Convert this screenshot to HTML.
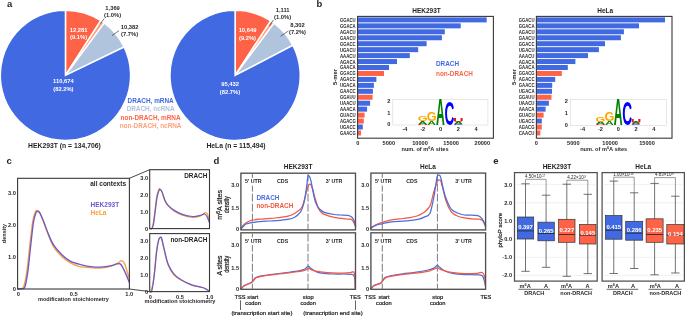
<!DOCTYPE html>
<html><head><meta charset="utf-8"><style>
html,body{margin:0;padding:0;background:#fff;}
svg{display:block;}
text{font-family:"Liberation Sans", sans-serif;}
</style></head><body>
<div style="width:685px;height:317px;will-change:transform;">
<svg width="685" height="317" viewBox="0 0 685 317">
<rect width="685" height="317" fill="#fff"/>
<text x="6.90" y="6.90" font-size="9.5" font-weight="bold" text-anchor="start" fill="#231f20">a</text>
<path d="M65.45,75.35 L65.45,10.20 A65.15,65.15 0 0 1 100.76,20.60 Z" fill="#ff6347" stroke="#fff" stroke-width="1.5" stroke-linejoin="miter" stroke-miterlimit="10"/>
<path d="M65.45,75.35 L100.76,20.60 A65.15,65.15 0 0 1 104.18,22.96 Z" fill="#ffa07a" stroke="#fff" stroke-width="1.5" stroke-linejoin="miter" stroke-miterlimit="10"/>
<path d="M65.45,75.35 L104.18,22.96 A65.15,65.15 0 0 1 124.12,47.02 Z" fill="#b0c4de" stroke="#fff" stroke-width="1.5" stroke-linejoin="miter" stroke-miterlimit="10"/>
<path d="M65.45,75.35 L124.12,47.02 A65.15,65.15 0 1 1 65.45,10.20 Z" fill="#4169e1" stroke="#fff" stroke-width="1.5" stroke-linejoin="miter" stroke-miterlimit="10"/>
<path d="M235.10,75.40 L235.10,10.25 A65.15,65.15 0 0 1 270.77,20.88 Z" fill="#ff6347" stroke="#fff" stroke-width="1.5" stroke-linejoin="miter" stroke-miterlimit="10"/>
<path d="M235.10,75.40 L270.77,20.88 A65.15,65.15 0 0 1 274.00,23.13 Z" fill="#ffa07a" stroke="#fff" stroke-width="1.5" stroke-linejoin="miter" stroke-miterlimit="10"/>
<path d="M235.10,75.40 L274.00,23.13 A65.15,65.15 0 0 1 292.91,45.35 Z" fill="#b0c4de" stroke="#fff" stroke-width="1.5" stroke-linejoin="miter" stroke-miterlimit="10"/>
<path d="M235.10,75.40 L292.91,45.35 A65.15,65.15 0 1 1 235.10,10.25 Z" fill="#4169e1" stroke="#fff" stroke-width="1.5" stroke-linejoin="miter" stroke-miterlimit="10"/>
<text x="78.60" y="32.10" font-size="5.8" font-weight="bold" text-anchor="middle" fill="#fff">12,281</text>
<text x="78.60" y="38.60" font-size="5.8" font-weight="bold" text-anchor="middle" fill="#fff">(9.1%)</text>
<text x="112.60" y="10.40" font-size="5.8" font-weight="bold" text-anchor="middle" fill="#231f20">1,369</text>
<text x="112.60" y="17.00" font-size="5.8" font-weight="bold" text-anchor="middle" fill="#231f20">(1.0%)</text>
<line x1="104.20" y1="18.60" x2="100.40" y2="23.60" stroke="#222" stroke-width="0.6"/>
<text x="129.60" y="29.10" font-size="5.8" font-weight="bold" text-anchor="middle" fill="#231f20">10,382</text>
<text x="129.60" y="35.70" font-size="5.8" font-weight="bold" text-anchor="middle" fill="#231f20">(7.7%)</text>
<line x1="119.00" y1="30.60" x2="112.00" y2="35.60" stroke="#222" stroke-width="0.6"/>
<text x="63.40" y="83.10" font-size="5.8" font-weight="bold" text-anchor="middle" fill="#fff">110,674</text>
<text x="63.40" y="90.50" font-size="5.8" font-weight="bold" text-anchor="middle" fill="#fff">(82.2%)</text>
<text x="64.40" y="148.30" font-size="6.8" font-weight="bold" text-anchor="middle" fill="#231f20">HEK293T (n = 134,706)</text>
<text x="247.50" y="32.40" font-size="5.8" font-weight="bold" text-anchor="middle" fill="#fff">10,649</text>
<text x="247.50" y="39.80" font-size="5.8" font-weight="bold" text-anchor="middle" fill="#fff">(9.2%)</text>
<text x="282.60" y="11.80" font-size="5.8" font-weight="bold" text-anchor="middle" fill="#231f20">1,111</text>
<text x="282.60" y="18.70" font-size="5.8" font-weight="bold" text-anchor="middle" fill="#231f20">(1.0%)</text>
<line x1="273.40" y1="19.90" x2="269.40" y2="26.00" stroke="#222" stroke-width="0.6"/>
<text x="297.50" y="27.00" font-size="5.8" font-weight="bold" text-anchor="middle" fill="#231f20">8,302</text>
<text x="297.50" y="33.80" font-size="5.8" font-weight="bold" text-anchor="middle" fill="#231f20">(7.2%)</text>
<line x1="288.40" y1="31.00" x2="280.50" y2="36.30" stroke="#222" stroke-width="0.6"/>
<text x="230.10" y="86.40" font-size="5.8" font-weight="bold" text-anchor="middle" fill="#fff">95,432</text>
<text x="230.00" y="93.60" font-size="5.8" font-weight="bold" text-anchor="middle" fill="#fff">(82.7%)</text>
<text x="236.00" y="148.30" font-size="6.8" font-weight="bold" text-anchor="middle" fill="#231f20">HeLa (n = 115,494)</text>
<text x="150.60" y="102.80" font-size="6.4" font-weight="bold" text-anchor="middle" fill="#4169e1">DRACH, mRNA</text>
<text x="150.60" y="111.20" font-size="6.4" font-weight="bold" text-anchor="middle" fill="#b0c4de">DRACH, ncRNA</text>
<text x="150.60" y="119.60" font-size="6.4" font-weight="bold" text-anchor="middle" fill="#ff6347">non-DRACH, mRNA</text>
<text x="150.60" y="128.00" font-size="6.4" font-weight="bold" text-anchor="middle" fill="#ffa07a">non-DRACH, ncRNA</text>
<text x="316.60" y="7.00" font-size="9.5" font-weight="bold" text-anchor="start" fill="#231f20">b</text>
<rect x="357.60" y="17.40" width="129.10" height="5.00" fill="#4169e1" stroke="none" stroke-width="0.8"/>
<text x="355.70" y="21.85" font-size="4.7" font-weight="bold" text-anchor="end" fill="#231f20" textLength="15.8" lengthAdjust="spacingAndGlyphs">GGACU</text>
<rect x="357.60" y="23.35" width="103.10" height="5.00" fill="#4169e1" stroke="none" stroke-width="0.8"/>
<text x="355.70" y="27.80" font-size="4.7" font-weight="bold" text-anchor="end" fill="#231f20" textLength="15.8" lengthAdjust="spacingAndGlyphs">GGACA</text>
<rect x="357.60" y="29.30" width="87.20" height="5.00" fill="#4169e1" stroke="none" stroke-width="0.8"/>
<text x="355.70" y="33.75" font-size="4.7" font-weight="bold" text-anchor="end" fill="#231f20" textLength="15.8" lengthAdjust="spacingAndGlyphs">AGACU</text>
<rect x="357.60" y="35.25" width="84.30" height="5.00" fill="#4169e1" stroke="none" stroke-width="0.8"/>
<text x="355.70" y="39.70" font-size="4.7" font-weight="bold" text-anchor="end" fill="#231f20" textLength="15.8" lengthAdjust="spacingAndGlyphs">GAACU</text>
<rect x="357.60" y="41.20" width="69.00" height="5.00" fill="#4169e1" stroke="none" stroke-width="0.8"/>
<text x="355.70" y="45.65" font-size="4.7" font-weight="bold" text-anchor="end" fill="#231f20" textLength="15.8" lengthAdjust="spacingAndGlyphs">GGACC</text>
<rect x="357.60" y="47.15" width="60.60" height="5.00" fill="#4169e1" stroke="none" stroke-width="0.8"/>
<text x="355.70" y="51.60" font-size="4.7" font-weight="bold" text-anchor="end" fill="#231f20" textLength="15.8" lengthAdjust="spacingAndGlyphs">UGACU</text>
<rect x="357.60" y="53.10" width="52.20" height="5.00" fill="#4169e1" stroke="none" stroke-width="0.8"/>
<text x="355.70" y="57.55" font-size="4.7" font-weight="bold" text-anchor="end" fill="#231f20" textLength="15.8" lengthAdjust="spacingAndGlyphs">AAACU</text>
<rect x="357.60" y="59.05" width="39.40" height="5.00" fill="#4169e1" stroke="none" stroke-width="0.8"/>
<text x="355.70" y="63.50" font-size="4.7" font-weight="bold" text-anchor="end" fill="#231f20" textLength="15.8" lengthAdjust="spacingAndGlyphs">AGACA</text>
<rect x="357.60" y="65.00" width="31.40" height="5.00" fill="#4169e1" stroke="none" stroke-width="0.8"/>
<text x="355.70" y="69.45" font-size="4.7" font-weight="bold" text-anchor="end" fill="#231f20" textLength="15.8" lengthAdjust="spacingAndGlyphs">GAACA</text>
<rect x="357.60" y="70.95" width="26.40" height="5.00" fill="#ff6347" stroke="none" stroke-width="0.8"/>
<text x="355.70" y="75.40" font-size="4.7" font-weight="bold" text-anchor="end" fill="#231f20" textLength="15.8" lengthAdjust="spacingAndGlyphs">GGACG</text>
<rect x="357.60" y="76.90" width="18.80" height="5.00" fill="#4169e1" stroke="none" stroke-width="0.8"/>
<text x="355.70" y="81.35" font-size="4.7" font-weight="bold" text-anchor="end" fill="#231f20" textLength="15.8" lengthAdjust="spacingAndGlyphs">AGACC</text>
<rect x="357.60" y="82.85" width="16.30" height="5.00" fill="#4169e1" stroke="none" stroke-width="0.8"/>
<text x="355.70" y="87.30" font-size="4.7" font-weight="bold" text-anchor="end" fill="#231f20" textLength="15.8" lengthAdjust="spacingAndGlyphs">UGACA</text>
<rect x="357.60" y="88.80" width="15.30" height="5.00" fill="#4169e1" stroke="none" stroke-width="0.8"/>
<text x="355.70" y="93.25" font-size="4.7" font-weight="bold" text-anchor="end" fill="#231f20" textLength="15.8" lengthAdjust="spacingAndGlyphs">GAACC</text>
<rect x="357.60" y="94.75" width="15.00" height="5.00" fill="#ff6347" stroke="none" stroke-width="0.8"/>
<text x="355.70" y="99.20" font-size="4.7" font-weight="bold" text-anchor="end" fill="#231f20" textLength="15.8" lengthAdjust="spacingAndGlyphs">GGAUU</text>
<rect x="357.60" y="100.70" width="12.50" height="5.00" fill="#4169e1" stroke="none" stroke-width="0.8"/>
<text x="355.70" y="105.15" font-size="4.7" font-weight="bold" text-anchor="end" fill="#231f20" textLength="15.8" lengthAdjust="spacingAndGlyphs">UAACU</text>
<rect x="357.60" y="106.65" width="9.50" height="5.00" fill="#4169e1" stroke="none" stroke-width="0.8"/>
<text x="355.70" y="111.10" font-size="4.7" font-weight="bold" text-anchor="end" fill="#231f20" textLength="15.8" lengthAdjust="spacingAndGlyphs">AAACA</text>
<rect x="357.60" y="112.60" width="7.00" height="5.00" fill="#ff6347" stroke="none" stroke-width="0.8"/>
<text x="355.70" y="117.05" font-size="4.7" font-weight="bold" text-anchor="end" fill="#231f20" textLength="15.8" lengthAdjust="spacingAndGlyphs">GUACU</text>
<rect x="357.60" y="118.55" width="6.20" height="5.00" fill="#ff6347" stroke="none" stroke-width="0.8"/>
<text x="355.70" y="123.00" font-size="4.7" font-weight="bold" text-anchor="end" fill="#231f20" textLength="15.8" lengthAdjust="spacingAndGlyphs">AGACG</text>
<rect x="357.60" y="124.50" width="5.20" height="5.00" fill="#4169e1" stroke="none" stroke-width="0.8"/>
<text x="355.70" y="128.95" font-size="4.7" font-weight="bold" text-anchor="end" fill="#231f20" textLength="15.8" lengthAdjust="spacingAndGlyphs">UGACC</text>
<rect x="357.60" y="130.45" width="3.40" height="5.00" fill="#ff6347" stroke="none" stroke-width="0.8"/>
<text x="355.70" y="134.90" font-size="4.7" font-weight="bold" text-anchor="end" fill="#231f20" textLength="15.8" lengthAdjust="spacingAndGlyphs">GAACG</text>
<rect x="357.60" y="16.40" width="135.80" height="121.80" fill="none" stroke="#383838" stroke-width="1.1"/>
<text x="426.50" y="13.00" font-size="6.5" font-weight="bold" text-anchor="middle" fill="#231f20">HEK293T</text>
<text x="357.70" y="144.70" font-size="5.6" font-weight="bold" text-anchor="middle" fill="#231f20">0</text>
<text x="388.85" y="144.70" font-size="5.6" font-weight="bold" text-anchor="middle" fill="#231f20">5000</text>
<text x="420.00" y="144.70" font-size="5.6" font-weight="bold" text-anchor="middle" fill="#231f20">10000</text>
<text x="451.10" y="144.70" font-size="5.6" font-weight="bold" text-anchor="middle" fill="#231f20">15000</text>
<text x="482.30" y="144.70" font-size="5.6" font-weight="bold" text-anchor="middle" fill="#231f20">20000</text>
<text transform="translate(337.00,77.00) rotate(-90)" x="0" y="0" font-size="5.9" font-weight="bold" text-anchor="middle" fill="#231f20">5-mer</text>
<text x="425.00" y="150.90" font-size="5.6" font-weight="bold" text-anchor="middle" fill="#231f20">num. of m<tspan font-size="3.81" dy="-1.90">6</tspan><tspan dy="1.90">A</tspan> sites</text>
<rect x="536.40" y="17.40" width="128.60" height="5.00" fill="#4169e1" stroke="none" stroke-width="0.8"/>
<text x="534.50" y="21.85" font-size="4.7" font-weight="bold" text-anchor="end" fill="#231f20" textLength="15.8" lengthAdjust="spacingAndGlyphs">GGACU</text>
<rect x="536.40" y="23.35" width="102.60" height="5.00" fill="#4169e1" stroke="none" stroke-width="0.8"/>
<text x="534.50" y="27.80" font-size="4.7" font-weight="bold" text-anchor="end" fill="#231f20" textLength="15.8" lengthAdjust="spacingAndGlyphs">GGACA</text>
<rect x="536.40" y="29.30" width="87.50" height="5.00" fill="#4169e1" stroke="none" stroke-width="0.8"/>
<text x="534.50" y="33.75" font-size="4.7" font-weight="bold" text-anchor="end" fill="#231f20" textLength="15.8" lengthAdjust="spacingAndGlyphs">AGACU</text>
<rect x="536.40" y="35.25" width="84.50" height="5.00" fill="#4169e1" stroke="none" stroke-width="0.8"/>
<text x="534.50" y="39.70" font-size="4.7" font-weight="bold" text-anchor="end" fill="#231f20" textLength="15.8" lengthAdjust="spacingAndGlyphs">GAACU</text>
<rect x="536.40" y="41.20" width="68.60" height="5.00" fill="#4169e1" stroke="none" stroke-width="0.8"/>
<text x="534.50" y="45.65" font-size="4.7" font-weight="bold" text-anchor="end" fill="#231f20" textLength="15.8" lengthAdjust="spacingAndGlyphs">GGACC</text>
<rect x="536.40" y="47.15" width="62.50" height="5.00" fill="#4169e1" stroke="none" stroke-width="0.8"/>
<text x="534.50" y="51.60" font-size="4.7" font-weight="bold" text-anchor="end" fill="#231f20" textLength="15.8" lengthAdjust="spacingAndGlyphs">UGACU</text>
<rect x="536.40" y="53.10" width="51.60" height="5.00" fill="#4169e1" stroke="none" stroke-width="0.8"/>
<text x="534.50" y="57.55" font-size="4.7" font-weight="bold" text-anchor="end" fill="#231f20" textLength="15.8" lengthAdjust="spacingAndGlyphs">AAACU</text>
<rect x="536.40" y="59.05" width="39.00" height="5.00" fill="#4169e1" stroke="none" stroke-width="0.8"/>
<text x="534.50" y="63.50" font-size="4.7" font-weight="bold" text-anchor="end" fill="#231f20" textLength="15.8" lengthAdjust="spacingAndGlyphs">AGACA</text>
<rect x="536.40" y="65.00" width="31.40" height="5.00" fill="#4169e1" stroke="none" stroke-width="0.8"/>
<text x="534.50" y="69.45" font-size="4.7" font-weight="bold" text-anchor="end" fill="#231f20" textLength="15.8" lengthAdjust="spacingAndGlyphs">GAACA</text>
<rect x="536.40" y="70.95" width="25.40" height="5.00" fill="#ff6347" stroke="none" stroke-width="0.8"/>
<text x="534.50" y="75.40" font-size="4.7" font-weight="bold" text-anchor="end" fill="#231f20" textLength="15.8" lengthAdjust="spacingAndGlyphs">GGACG</text>
<rect x="536.40" y="76.90" width="18.80" height="5.00" fill="#4169e1" stroke="none" stroke-width="0.8"/>
<text x="534.50" y="81.35" font-size="4.7" font-weight="bold" text-anchor="end" fill="#231f20" textLength="15.8" lengthAdjust="spacingAndGlyphs">AGACC</text>
<rect x="536.40" y="82.85" width="15.80" height="5.00" fill="#4169e1" stroke="none" stroke-width="0.8"/>
<text x="534.50" y="87.30" font-size="4.7" font-weight="bold" text-anchor="end" fill="#231f20" textLength="15.8" lengthAdjust="spacingAndGlyphs">GAACC</text>
<rect x="536.40" y="88.80" width="15.60" height="5.00" fill="#4169e1" stroke="none" stroke-width="0.8"/>
<text x="534.50" y="93.25" font-size="4.7" font-weight="bold" text-anchor="end" fill="#231f20" textLength="15.8" lengthAdjust="spacingAndGlyphs">UGACA</text>
<rect x="536.40" y="94.75" width="15.10" height="5.00" fill="#ff6347" stroke="none" stroke-width="0.8"/>
<text x="534.50" y="99.20" font-size="4.7" font-weight="bold" text-anchor="end" fill="#231f20" textLength="15.8" lengthAdjust="spacingAndGlyphs">GGAUU</text>
<rect x="536.40" y="100.70" width="12.50" height="5.00" fill="#4169e1" stroke="none" stroke-width="0.8"/>
<text x="534.50" y="105.15" font-size="4.7" font-weight="bold" text-anchor="end" fill="#231f20" textLength="15.8" lengthAdjust="spacingAndGlyphs">UAACU</text>
<rect x="536.40" y="106.65" width="9.20" height="5.00" fill="#4169e1" stroke="none" stroke-width="0.8"/>
<text x="534.50" y="111.10" font-size="4.7" font-weight="bold" text-anchor="end" fill="#231f20" textLength="15.8" lengthAdjust="spacingAndGlyphs">AAACA</text>
<rect x="536.40" y="112.60" width="7.20" height="5.00" fill="#ff6347" stroke="none" stroke-width="0.8"/>
<text x="534.50" y="117.05" font-size="4.7" font-weight="bold" text-anchor="end" fill="#231f20" textLength="15.8" lengthAdjust="spacingAndGlyphs">GUACU</text>
<rect x="536.40" y="118.55" width="5.40" height="5.00" fill="#4169e1" stroke="none" stroke-width="0.8"/>
<text x="534.50" y="123.00" font-size="4.7" font-weight="bold" text-anchor="end" fill="#231f20" textLength="15.8" lengthAdjust="spacingAndGlyphs">UGACC</text>
<rect x="536.40" y="124.50" width="5.40" height="5.00" fill="#ff6347" stroke="none" stroke-width="0.8"/>
<text x="534.50" y="128.95" font-size="4.7" font-weight="bold" text-anchor="end" fill="#231f20" textLength="15.8" lengthAdjust="spacingAndGlyphs">AGACG</text>
<rect x="536.40" y="130.45" width="3.90" height="5.00" fill="#ff6347" stroke="none" stroke-width="0.8"/>
<text x="534.50" y="134.90" font-size="4.7" font-weight="bold" text-anchor="end" fill="#231f20" textLength="15.8" lengthAdjust="spacingAndGlyphs">CAACU</text>
<rect x="536.40" y="16.40" width="135.60" height="121.80" fill="none" stroke="#383838" stroke-width="1.1"/>
<text x="605.20" y="13.00" font-size="6.5" font-weight="bold" text-anchor="middle" fill="#231f20">HeLa</text>
<text x="536.40" y="144.70" font-size="5.6" font-weight="bold" text-anchor="middle" fill="#231f20">0</text>
<text x="573.30" y="144.70" font-size="5.6" font-weight="bold" text-anchor="middle" fill="#231f20">5000</text>
<text x="610.10" y="144.70" font-size="5.6" font-weight="bold" text-anchor="middle" fill="#231f20">10000</text>
<text x="647.00" y="144.70" font-size="5.6" font-weight="bold" text-anchor="middle" fill="#231f20">15000</text>
<text transform="translate(515.80,77.00) rotate(-90)" x="0" y="0" font-size="5.9" font-weight="bold" text-anchor="middle" fill="#231f20">5-mer</text>
<text x="603.70" y="150.90" font-size="5.6" font-weight="bold" text-anchor="middle" fill="#231f20">num. of m<tspan font-size="3.81" dy="-1.90">6</tspan><tspan dy="1.90">A</tspan> sites</text>
<text x="436.00" y="65.60" font-size="6.4" font-weight="bold" text-anchor="start" fill="#4169e1">DRACH</text>
<text x="436.00" y="76.00" font-size="6.4" font-weight="bold" text-anchor="start" fill="#ff6347">non-DRACH</text>
<rect x="392.80" y="99.30" width="95.10" height="25.70" fill="#fff" stroke="#d8d8d8" stroke-width="0.6"/>
<text x="390.40" y="126.00" font-size="5.6" font-weight="bold" text-anchor="end" fill="#231f20">0</text>
<text x="390.40" y="114.60" font-size="5.6" font-weight="bold" text-anchor="end" fill="#231f20">1</text>
<text x="390.40" y="102.60" font-size="5.6" font-weight="bold" text-anchor="end" fill="#231f20">2</text>
<text x="404.90" y="130.90" font-size="5.6" font-weight="bold" text-anchor="middle" fill="#231f20">-4</text>
<text x="422.70" y="130.90" font-size="5.6" font-weight="bold" text-anchor="middle" fill="#231f20">-2</text>
<text x="440.50" y="130.90" font-size="5.6" font-weight="bold" text-anchor="middle" fill="#231f20">0</text>
<text x="458.30" y="130.90" font-size="5.6" font-weight="bold" text-anchor="middle" fill="#231f20">2</text>
<text x="476.10" y="130.90" font-size="5.6" font-weight="bold" text-anchor="middle" fill="#231f20">4</text>
<text transform="translate(390.73,124.90) scale(1.463,0.050)" x="0" y="0" font-size="10" font-weight="bold" fill="#e8141c">U</text>
<text transform="translate(391.62,124.55) scale(1.216,0.033)" x="0" y="0" font-size="10" font-weight="bold" fill="#008000">A</text>
<text transform="translate(399.63,124.90) scale(1.463,0.033)" x="0" y="0" font-size="10" font-weight="bold" fill="#e8141c">U</text>
<text transform="translate(400.52,124.67) scale(1.216,0.066)" x="0" y="0" font-size="10" font-weight="bold" fill="#008000">A</text>
<text transform="translate(399.97,124.20) scale(1.370,0.050)" x="0" y="0" font-size="10" font-weight="bold" fill="#0000ff">C</text>
<text transform="translate(408.53,124.90) scale(1.463,0.033)" x="0" y="0" font-size="10" font-weight="bold" fill="#e8141c">U</text>
<text transform="translate(409.42,124.67) scale(1.216,0.066)" x="0" y="0" font-size="10" font-weight="bold" fill="#008000">A</text>
<text transform="translate(408.91,124.20) scale(1.270,0.050)" x="0" y="0" font-size="10" font-weight="bold" fill="#ffa500">G</text>
<text transform="translate(417.43,124.90) scale(1.463,0.166)" x="0" y="0" font-size="10" font-weight="bold" fill="#e8141c">U</text>
<text transform="translate(418.32,123.74) scale(1.216,0.365)" x="0" y="0" font-size="10" font-weight="bold" fill="#008000">A</text>
<text transform="translate(417.81,121.19) scale(1.270,0.762)" x="0" y="0" font-size="10" font-weight="bold" fill="#ffa500">G</text>
<text transform="translate(427.22,124.90) scale(1.216,0.597)" x="0" y="0" font-size="10" font-weight="bold" fill="#008000">A</text>
<text transform="translate(426.71,120.72) scale(1.270,1.293)" x="0" y="0" font-size="10" font-weight="bold" fill="#ffa500">G</text>
<text transform="translate(436.12,124.90) scale(1.216,3.729)" x="0" y="0" font-size="10" font-weight="bold" fill="#008000">A</text>
<text transform="translate(444.47,124.90) scale(1.370,3.314)" x="0" y="0" font-size="10" font-weight="bold" fill="#0000ff">C</text>
<text transform="translate(453.37,124.90) scale(1.370,0.133)" x="0" y="0" font-size="10" font-weight="bold" fill="#0000ff">C</text>
<text transform="translate(453.92,123.97) scale(1.216,0.265)" x="0" y="0" font-size="10" font-weight="bold" fill="#008000">A</text>
<text transform="translate(453.03,122.12) scale(1.463,0.464)" x="0" y="0" font-size="10" font-weight="bold" fill="#e8141c">U</text>
<text transform="translate(461.93,124.90) scale(1.463,0.033)" x="0" y="0" font-size="10" font-weight="bold" fill="#e8141c">U</text>
<text transform="translate(462.31,124.67) scale(1.270,0.066)" x="0" y="0" font-size="10" font-weight="bold" fill="#ffa500">G</text>
<text transform="translate(462.82,124.20) scale(1.216,0.050)" x="0" y="0" font-size="10" font-weight="bold" fill="#008000">A</text>
<text transform="translate(470.83,124.90) scale(1.463,0.050)" x="0" y="0" font-size="10" font-weight="bold" fill="#e8141c">U</text>
<text transform="translate(471.72,124.55) scale(1.216,0.050)" x="0" y="0" font-size="10" font-weight="bold" fill="#008000">A</text>
<text transform="translate(471.21,124.20) scale(1.270,0.050)" x="0" y="0" font-size="10" font-weight="bold" fill="#ffa500">G</text>
<text transform="translate(479.73,124.90) scale(1.463,0.050)" x="0" y="0" font-size="10" font-weight="bold" fill="#e8141c">U</text>
<text transform="translate(480.62,124.55) scale(1.216,0.033)" x="0" y="0" font-size="10" font-weight="bold" fill="#008000">A</text>
<rect x="570.30" y="99.50" width="96.10" height="26.00" fill="#fff" stroke="#d8d8d8" stroke-width="0.6"/>
<text x="567.90" y="126.50" font-size="5.6" font-weight="bold" text-anchor="end" fill="#231f20">0</text>
<text x="567.90" y="115.10" font-size="5.6" font-weight="bold" text-anchor="end" fill="#231f20">1</text>
<text x="567.90" y="103.10" font-size="5.6" font-weight="bold" text-anchor="end" fill="#231f20">2</text>
<text x="582.60" y="131.40" font-size="5.6" font-weight="bold" text-anchor="middle" fill="#231f20">-4</text>
<text x="600.40" y="131.40" font-size="5.6" font-weight="bold" text-anchor="middle" fill="#231f20">-2</text>
<text x="618.20" y="131.40" font-size="5.6" font-weight="bold" text-anchor="middle" fill="#231f20">0</text>
<text x="636.00" y="131.40" font-size="5.6" font-weight="bold" text-anchor="middle" fill="#231f20">2</text>
<text x="653.80" y="131.40" font-size="5.6" font-weight="bold" text-anchor="middle" fill="#231f20">4</text>
<text transform="translate(568.43,125.40) scale(1.463,0.050)" x="0" y="0" font-size="10" font-weight="bold" fill="#e8141c">U</text>
<text transform="translate(569.32,125.05) scale(1.216,0.033)" x="0" y="0" font-size="10" font-weight="bold" fill="#008000">A</text>
<text transform="translate(577.33,125.40) scale(1.463,0.033)" x="0" y="0" font-size="10" font-weight="bold" fill="#e8141c">U</text>
<text transform="translate(578.22,125.17) scale(1.216,0.066)" x="0" y="0" font-size="10" font-weight="bold" fill="#008000">A</text>
<text transform="translate(577.67,124.70) scale(1.370,0.050)" x="0" y="0" font-size="10" font-weight="bold" fill="#0000ff">C</text>
<text transform="translate(586.23,125.40) scale(1.463,0.033)" x="0" y="0" font-size="10" font-weight="bold" fill="#e8141c">U</text>
<text transform="translate(587.12,125.17) scale(1.216,0.066)" x="0" y="0" font-size="10" font-weight="bold" fill="#008000">A</text>
<text transform="translate(586.61,124.70) scale(1.270,0.050)" x="0" y="0" font-size="10" font-weight="bold" fill="#ffa500">G</text>
<text transform="translate(595.13,125.40) scale(1.463,0.166)" x="0" y="0" font-size="10" font-weight="bold" fill="#e8141c">U</text>
<text transform="translate(596.02,124.24) scale(1.216,0.365)" x="0" y="0" font-size="10" font-weight="bold" fill="#008000">A</text>
<text transform="translate(595.51,121.69) scale(1.270,0.762)" x="0" y="0" font-size="10" font-weight="bold" fill="#ffa500">G</text>
<text transform="translate(604.92,125.40) scale(1.216,0.597)" x="0" y="0" font-size="10" font-weight="bold" fill="#008000">A</text>
<text transform="translate(604.41,121.22) scale(1.270,1.293)" x="0" y="0" font-size="10" font-weight="bold" fill="#ffa500">G</text>
<text transform="translate(613.82,125.40) scale(1.216,3.729)" x="0" y="0" font-size="10" font-weight="bold" fill="#008000">A</text>
<text transform="translate(622.17,125.40) scale(1.370,3.314)" x="0" y="0" font-size="10" font-weight="bold" fill="#0000ff">C</text>
<text transform="translate(631.07,125.40) scale(1.370,0.133)" x="0" y="0" font-size="10" font-weight="bold" fill="#0000ff">C</text>
<text transform="translate(631.62,124.47) scale(1.216,0.265)" x="0" y="0" font-size="10" font-weight="bold" fill="#008000">A</text>
<text transform="translate(630.73,122.62) scale(1.463,0.464)" x="0" y="0" font-size="10" font-weight="bold" fill="#e8141c">U</text>
<text transform="translate(639.63,125.40) scale(1.463,0.033)" x="0" y="0" font-size="10" font-weight="bold" fill="#e8141c">U</text>
<text transform="translate(640.01,125.17) scale(1.270,0.066)" x="0" y="0" font-size="10" font-weight="bold" fill="#ffa500">G</text>
<text transform="translate(640.52,124.70) scale(1.216,0.050)" x="0" y="0" font-size="10" font-weight="bold" fill="#008000">A</text>
<text transform="translate(648.53,125.40) scale(1.463,0.050)" x="0" y="0" font-size="10" font-weight="bold" fill="#e8141c">U</text>
<text transform="translate(649.42,125.05) scale(1.216,0.050)" x="0" y="0" font-size="10" font-weight="bold" fill="#008000">A</text>
<text transform="translate(648.91,124.70) scale(1.270,0.050)" x="0" y="0" font-size="10" font-weight="bold" fill="#ffa500">G</text>
<text transform="translate(657.43,125.40) scale(1.463,0.050)" x="0" y="0" font-size="10" font-weight="bold" fill="#e8141c">U</text>
<text transform="translate(658.32,125.05) scale(1.216,0.033)" x="0" y="0" font-size="10" font-weight="bold" fill="#008000">A</text>
<text x="6.60" y="164.00" font-size="9.5" font-weight="bold" text-anchor="start" fill="#231f20">c</text>
<path d="M17.60,289.00 C18.20,288.92 20.11,289.00 21.17,288.51 C22.23,288.01 22.98,289.00 23.94,286.03 C24.90,283.06 25.92,277.63 26.91,270.71 C27.90,263.79 28.89,252.84 29.88,244.52 C30.87,236.20 31.89,226.31 32.85,220.79 C33.81,215.27 34.88,213.10 35.62,211.40 C36.36,209.70 36.66,210.48 37.30,210.61 C37.94,210.74 38.51,210.53 39.48,212.19 C40.45,213.85 41.80,217.18 43.14,220.59 C44.48,224.00 45.79,228.37 47.49,232.65 C49.19,236.94 50.92,242.29 53.33,246.30 C55.74,250.31 59.05,253.93 61.93,256.70 C64.81,259.47 67.84,261.28 70.64,262.90 C73.44,264.52 76.05,265.66 78.75,266.40 C81.45,267.14 84.16,267.06 86.86,267.35 C89.56,267.64 92.27,268.06 94.97,268.14 C97.67,268.22 100.39,268.18 103.09,267.85 C105.80,267.52 108.76,266.98 111.20,266.17 C113.64,265.36 116.00,263.92 117.73,263.00 C119.46,262.08 120.49,260.61 121.58,260.63 C122.67,260.65 123.42,261.59 124.26,263.10 C125.10,264.62 125.82,267.25 126.63,269.72 C127.44,272.19 128.69,276.56 129.10,277.93" fill="none" stroke="#f7a13a" stroke-width="1.35" stroke-linejoin="round" stroke-linecap="round"/>
<path d="M17.60,289.00 C18.33,288.93 20.77,288.93 21.97,288.60 C23.17,288.27 23.88,289.67 24.83,287.02 C25.78,284.37 26.74,279.38 27.70,272.69 C28.66,266.00 29.61,255.26 30.57,246.89 C31.53,238.52 32.53,228.17 33.44,222.47 C34.35,216.77 35.30,214.52 36.01,212.69 C36.72,210.86 37.06,211.47 37.69,211.50 C38.32,211.53 38.81,211.28 39.77,212.88 C40.73,214.48 42.09,217.81 43.43,221.09 C44.77,224.37 46.11,228.59 47.79,232.56 C49.47,236.53 51.13,241.16 53.52,244.90 C55.91,248.64 59.28,252.25 62.13,255.00 C64.98,257.75 67.87,259.88 70.64,261.40 C73.41,262.91 76.05,263.29 78.75,264.09 C81.45,264.88 84.16,265.68 86.86,266.17 C89.56,266.66 92.27,266.94 94.97,267.05 C97.67,267.17 100.39,267.09 103.09,266.86 C105.80,266.63 108.86,266.17 111.20,265.67 C113.54,265.18 115.63,264.19 117.13,263.89 C118.63,263.59 119.29,263.36 120.20,263.89 C121.11,264.42 121.63,265.38 122.57,267.05 C123.51,268.72 124.75,271.39 125.84,273.88 C126.93,276.37 128.56,280.63 129.10,281.98" fill="none" stroke="#6a5acd" stroke-width="1.35" stroke-linejoin="round" stroke-linecap="round"/>
<rect x="17.60" y="178.30" width="111.80" height="110.70" fill="none" stroke="#383838" stroke-width="1.1"/>
<text x="16.00" y="291.00" font-size="5.7" font-weight="bold" text-anchor="end" fill="#231f20">0</text>
<text x="16.00" y="259.13" font-size="5.7" font-weight="bold" text-anchor="end" fill="#231f20">1.0</text>
<text x="16.00" y="227.26" font-size="5.7" font-weight="bold" text-anchor="end" fill="#231f20">2.0</text>
<text x="16.00" y="195.39" font-size="5.7" font-weight="bold" text-anchor="end" fill="#231f20">3.0</text>
<text x="18.30" y="296.00" font-size="5.7" font-weight="bold" text-anchor="middle" fill="#231f20">0</text>
<text x="73.80" y="296.00" font-size="5.7" font-weight="bold" text-anchor="middle" fill="#231f20">0.5</text>
<text x="129.30" y="296.00" font-size="5.7" font-weight="bold" text-anchor="middle" fill="#231f20">1.0</text>
<text x="73.40" y="301.20" font-size="5.55" font-weight="bold" text-anchor="middle" fill="#231f20">modification stoichiometry</text>
<text transform="translate(5.80,233.50) rotate(-90)" x="0" y="0" font-size="5.5" font-weight="bold" text-anchor="middle" fill="#231f20">density</text>
<text x="126.00" y="186.00" font-size="6.5" font-weight="bold" text-anchor="end" fill="#231f20">all contexts</text>
<text x="90.60" y="206.60" font-size="6.5" font-weight="bold" text-anchor="start" fill="#6a5acd">HEK293T</text>
<text x="90.60" y="214.80" font-size="6.5" font-weight="bold" text-anchor="start" fill="#f7a13a">HeLa</text>
<line x1="129.40" y1="178.30" x2="149.70" y2="169.70" stroke="#333333" stroke-width="0.9"/>
<line x1="129.40" y1="289.00" x2="149.70" y2="291.60" stroke="#333333" stroke-width="0.9"/>
<path d="M150.00,228.60 C150.30,228.55 151.27,229.15 151.80,228.30 C152.33,227.45 152.70,226.32 153.20,223.50 C153.70,220.68 154.20,215.96 154.80,211.40 C155.40,206.84 156.13,199.79 156.80,196.13 C157.47,192.47 158.23,190.60 158.80,189.41 C159.37,188.22 159.70,188.65 160.20,189.01 C160.70,189.37 161.02,189.60 161.80,191.55 C162.58,193.50 163.88,198.38 164.90,200.72 C165.92,203.06 166.38,203.89 167.90,205.60 C169.42,207.31 171.60,209.40 174.00,211.00 C176.40,212.60 179.23,214.15 182.30,215.20 C185.37,216.25 189.37,217.20 192.40,217.30 C195.43,217.40 198.37,216.58 200.50,215.80 C202.63,215.02 204.03,212.90 205.20,212.60 C206.37,212.30 206.80,212.68 207.50,214.00 C208.20,215.32 209.08,219.42 209.40,220.50" fill="none" stroke="#f7a13a" stroke-width="1.25" stroke-linejoin="round" stroke-linecap="round"/>
<path d="M150.00,228.60 C150.33,228.57 151.42,229.17 152.00,228.40 C152.58,227.63 152.98,226.67 153.50,224.00 C154.02,221.33 154.50,216.88 155.10,212.40 C155.70,207.92 156.43,200.81 157.10,197.11 C157.77,193.41 158.53,191.41 159.10,190.19 C159.67,188.97 160.00,189.48 160.50,189.80 C161.00,190.12 161.32,190.26 162.10,192.13 C162.88,194.00 164.18,198.80 165.20,201.01 C166.22,203.22 166.70,203.84 168.20,205.40 C169.70,206.97 171.85,208.90 174.20,210.40 C176.55,211.90 179.27,213.38 182.30,214.40 C185.33,215.42 189.37,216.33 192.40,216.50 C195.43,216.67 198.48,215.82 200.50,215.40 C202.52,214.98 203.42,213.82 204.50,214.00 C205.58,214.18 206.18,215.08 207.00,216.50 C207.82,217.92 209.00,221.50 209.40,222.50" fill="none" stroke="#6a5acd" stroke-width="1.25" stroke-linejoin="round" stroke-linecap="round"/>
<rect x="149.70" y="169.70" width="59.80" height="58.90" fill="none" stroke="#383838" stroke-width="1.1"/>
<text x="148.10" y="230.60" font-size="5.6" font-weight="bold" text-anchor="end" fill="#231f20">0</text>
<text x="148.10" y="213.80" font-size="5.6" font-weight="bold" text-anchor="end" fill="#231f20">1.0</text>
<text x="148.10" y="197.00" font-size="5.6" font-weight="bold" text-anchor="end" fill="#231f20">2.0</text>
<text x="148.10" y="180.20" font-size="5.6" font-weight="bold" text-anchor="end" fill="#231f20">3.0</text>
<text x="207.30" y="178.10" font-size="6.4" font-weight="bold" text-anchor="end" fill="#231f20">DRACH</text>
<path d="M150.00,291.60 C150.13,291.55 150.32,292.65 150.80,291.30 C151.28,289.95 152.28,286.88 152.90,283.50 C153.52,280.12 153.90,276.45 154.50,271.00 C155.10,265.55 155.83,256.00 156.50,250.80 C157.17,245.60 157.90,242.07 158.50,239.80 C159.10,237.53 159.60,237.42 160.10,237.20 C160.60,236.98 160.85,236.47 161.50,238.50 C162.15,240.53 162.92,245.02 164.00,249.40 C165.08,253.78 166.33,260.53 168.00,264.80 C169.67,269.07 171.62,272.33 174.00,275.00 C176.38,277.67 179.23,279.08 182.30,280.80 C185.37,282.52 189.03,284.15 192.40,285.30 C195.77,286.45 200.15,287.08 202.50,287.70 C204.85,288.32 205.35,288.45 206.50,289.00 C207.65,289.55 208.92,290.67 209.40,291.00" fill="none" stroke="#f7a13a" stroke-width="1.25" stroke-linejoin="round" stroke-linecap="round"/>
<path d="M150.00,291.60 C150.27,291.57 151.08,292.67 151.60,291.40 C152.12,290.13 152.58,287.33 153.10,284.00 C153.62,280.67 154.10,276.87 154.70,271.40 C155.30,265.93 156.03,256.42 156.70,251.20 C157.37,245.98 158.10,242.38 158.70,240.10 C159.30,237.82 159.80,237.73 160.30,237.50 C160.80,237.27 161.05,236.75 161.70,238.70 C162.35,240.65 163.12,244.93 164.20,249.20 C165.28,253.47 166.53,260.10 168.20,264.30 C169.87,268.50 171.85,271.70 174.20,274.40 C176.55,277.10 179.27,278.72 182.30,280.50 C185.33,282.28 189.03,283.93 192.40,285.10 C195.77,286.27 200.15,286.78 202.50,287.50 C204.85,288.22 205.35,288.75 206.50,289.40 C207.65,290.05 208.92,291.07 209.40,291.40" fill="none" stroke="#6a5acd" stroke-width="1.25" stroke-linejoin="round" stroke-linecap="round"/>
<rect x="149.70" y="233.60" width="59.80" height="58.00" fill="none" stroke="#383838" stroke-width="1.1"/>
<text x="148.10" y="293.60" font-size="5.6" font-weight="bold" text-anchor="end" fill="#231f20">0</text>
<text x="148.10" y="276.80" font-size="5.6" font-weight="bold" text-anchor="end" fill="#231f20">1.0</text>
<text x="148.10" y="260.00" font-size="5.6" font-weight="bold" text-anchor="end" fill="#231f20">2.0</text>
<text x="148.10" y="243.20" font-size="5.6" font-weight="bold" text-anchor="end" fill="#231f20">3.0</text>
<text x="150.30" y="298.50" font-size="5.6" font-weight="bold" text-anchor="middle" fill="#231f20">0</text>
<text x="179.95" y="298.50" font-size="5.6" font-weight="bold" text-anchor="middle" fill="#231f20">0.5</text>
<text x="209.60" y="298.50" font-size="5.6" font-weight="bold" text-anchor="middle" fill="#231f20">1.0</text>
<text x="207.30" y="242.00" font-size="6.4" font-weight="bold" text-anchor="end" fill="#231f20">non-DRACH</text>
<text x="180.00" y="303.00" font-size="5.55" font-weight="bold" text-anchor="middle" fill="#231f20">modification stoichiometry</text>
<text x="213.40" y="164.00" font-size="9.5" font-weight="bold" text-anchor="start" fill="#231f20">d</text>
<line x1="252.40" y1="173.70" x2="252.40" y2="181.60" stroke="#7a7a7a" stroke-width="1.0"/>
<line x1="252.40" y1="183.60" x2="252.40" y2="191.60" stroke="#7a7a7a" stroke-width="1.0"/>
<line x1="252.40" y1="193.60" x2="252.40" y2="201.60" stroke="#7a7a7a" stroke-width="1.0"/>
<line x1="252.40" y1="203.60" x2="252.40" y2="211.60" stroke="#7a7a7a" stroke-width="1.0"/>
<line x1="252.40" y1="213.60" x2="252.40" y2="221.60" stroke="#7a7a7a" stroke-width="1.0"/>
<line x1="252.40" y1="223.60" x2="252.40" y2="229.40" stroke="#7a7a7a" stroke-width="1.0"/>
<line x1="308.00" y1="173.70" x2="308.00" y2="181.60" stroke="#7a7a7a" stroke-width="1.0"/>
<line x1="308.00" y1="183.60" x2="308.00" y2="191.60" stroke="#7a7a7a" stroke-width="1.0"/>
<line x1="308.00" y1="193.60" x2="308.00" y2="201.60" stroke="#7a7a7a" stroke-width="1.0"/>
<line x1="308.00" y1="203.60" x2="308.00" y2="211.60" stroke="#7a7a7a" stroke-width="1.0"/>
<line x1="308.00" y1="213.60" x2="308.00" y2="221.60" stroke="#7a7a7a" stroke-width="1.0"/>
<line x1="308.00" y1="223.60" x2="308.00" y2="229.40" stroke="#7a7a7a" stroke-width="1.0"/>
<rect x="251.40" y="177.90" width="2.00" height="7.70" fill="#fff" stroke="none" stroke-width="0.8"/>
<path d="M241.30,228.30 C241.67,227.75 242.42,226.08 243.50,225.00 C244.58,223.92 246.43,222.57 247.80,221.80 C249.17,221.03 249.75,220.83 251.70,220.40 C253.65,219.97 256.95,219.50 259.50,219.20 C262.05,218.90 264.38,218.80 267.00,218.60 C269.62,218.40 272.70,218.23 275.20,218.00 C277.70,217.77 279.72,217.55 282.00,217.20 C284.28,216.85 287.10,216.35 288.90,215.90 C290.70,215.45 291.53,215.12 292.80,214.50 C294.07,213.88 295.15,213.18 296.50,212.20 C297.85,211.22 299.82,209.88 300.90,208.60 C301.98,207.32 302.32,206.35 303.00,204.50 C303.68,202.65 304.33,200.00 305.00,197.50 C305.67,195.00 306.40,191.53 307.00,189.50 C307.60,187.47 308.10,186.18 308.60,185.30 C309.10,184.42 309.53,184.15 310.00,184.20 C310.47,184.25 310.93,184.72 311.40,185.60 C311.87,186.48 312.12,187.18 312.80,189.50 C313.48,191.82 314.55,196.32 315.50,199.50 C316.45,202.68 317.58,206.52 318.50,208.60 C319.42,210.68 320.02,211.03 321.00,212.00 C321.98,212.97 322.20,213.50 324.40,214.40 C326.60,215.30 330.62,216.63 334.20,217.40 C337.78,218.17 343.13,218.70 345.90,219.00 C348.67,219.30 349.53,218.73 350.80,219.20 C352.07,219.67 352.68,220.50 353.50,221.80 C354.32,223.10 355.33,226.13 355.70,227.00" fill="none" stroke="#f5573f" stroke-width="1.25" stroke-linejoin="round" stroke-linecap="round"/>
<path d="M241.30,228.60 C241.67,228.20 242.72,226.97 243.50,226.20 C244.28,225.43 244.63,224.60 246.00,224.00 C247.37,223.40 249.37,223.00 251.70,222.60 C254.03,222.20 257.07,221.87 260.00,221.60 C262.93,221.33 265.97,221.22 269.30,221.00 C272.63,220.78 276.73,220.60 280.00,220.30 C283.27,220.00 286.45,219.72 288.90,219.20 C291.35,218.68 293.18,217.93 294.70,217.20 C296.22,216.47 296.97,215.78 298.00,214.80 C299.03,213.82 300.15,212.50 300.90,211.30 C301.65,210.10 301.90,209.40 302.50,207.60 C303.10,205.80 303.83,203.85 304.50,200.50 C305.17,197.15 305.95,191.42 306.50,187.50 C307.05,183.58 307.42,178.98 307.80,177.00 C308.18,175.02 308.43,175.52 308.80,175.60 C309.17,175.68 309.60,176.43 310.00,177.50 C310.40,178.57 310.73,179.83 311.20,182.00 C311.67,184.17 312.07,187.08 312.80,190.50 C313.53,193.92 314.48,199.42 315.60,202.50 C316.72,205.58 318.03,207.37 319.50,209.00 C320.97,210.63 321.95,211.38 324.40,212.30 C326.85,213.22 331.60,214.05 334.20,214.50 C336.80,214.95 337.72,214.87 340.00,215.00 C342.28,215.13 345.93,214.97 347.90,215.30 C349.87,215.63 350.78,216.13 351.80,217.00 C352.82,217.87 353.35,219.00 354.00,220.50 C354.65,222.00 355.42,225.08 355.70,226.00" fill="none" stroke="#4a6ee0" stroke-width="1.25" stroke-linejoin="round" stroke-linecap="round"/>
<rect x="240.90" y="173.20" width="114.60" height="56.70" fill="none" stroke="#505050" stroke-width="1.35"/>
<text x="239.00" y="230.90" font-size="5.6" font-weight="bold" text-anchor="end" fill="#231f20">0</text>
<text x="239.00" y="209.90" font-size="5.6" font-weight="bold" text-anchor="end" fill="#231f20">1.5</text>
<text x="239.00" y="187.30" font-size="5.6" font-weight="bold" text-anchor="end" fill="#231f20">3.0</text>
<line x1="252.40" y1="233.60" x2="252.40" y2="241.60" stroke="#7a7a7a" stroke-width="1.0"/>
<line x1="252.40" y1="243.60" x2="252.40" y2="251.60" stroke="#7a7a7a" stroke-width="1.0"/>
<line x1="252.40" y1="253.60" x2="252.40" y2="261.60" stroke="#7a7a7a" stroke-width="1.0"/>
<line x1="252.40" y1="263.60" x2="252.40" y2="271.60" stroke="#7a7a7a" stroke-width="1.0"/>
<line x1="252.40" y1="273.60" x2="252.40" y2="281.60" stroke="#7a7a7a" stroke-width="1.0"/>
<line x1="252.40" y1="283.60" x2="252.40" y2="288.80" stroke="#7a7a7a" stroke-width="1.0"/>
<line x1="308.00" y1="233.60" x2="308.00" y2="241.60" stroke="#7a7a7a" stroke-width="1.0"/>
<line x1="308.00" y1="243.60" x2="308.00" y2="251.60" stroke="#7a7a7a" stroke-width="1.0"/>
<line x1="308.00" y1="253.60" x2="308.00" y2="261.60" stroke="#7a7a7a" stroke-width="1.0"/>
<line x1="308.00" y1="263.60" x2="308.00" y2="271.60" stroke="#7a7a7a" stroke-width="1.0"/>
<line x1="308.00" y1="273.60" x2="308.00" y2="281.60" stroke="#7a7a7a" stroke-width="1.0"/>
<line x1="308.00" y1="283.60" x2="308.00" y2="288.80" stroke="#7a7a7a" stroke-width="1.0"/>
<rect x="251.40" y="237.30" width="2.00" height="7.90" fill="#fff" stroke="none" stroke-width="0.8"/>
<path d="M241.00,288.70 C241.47,288.23 242.75,286.65 243.80,285.90 C244.85,285.15 246.13,284.72 247.30,284.20 C248.47,283.68 249.92,283.28 250.80,282.80 C251.68,282.32 251.82,282.13 252.60,281.30 C253.38,280.47 254.43,278.63 255.50,277.80 C256.57,276.97 257.05,276.77 259.00,276.30 C260.95,275.83 263.88,275.47 267.20,275.00 C270.52,274.53 275.02,274.00 278.90,273.50 C282.78,273.00 286.98,272.48 290.50,272.00 C294.02,271.52 297.58,271.10 300.00,270.60 C302.42,270.10 303.78,269.63 305.00,269.00 C306.22,268.37 306.72,267.27 307.30,266.80 C307.88,266.33 307.92,265.95 308.50,266.20 C309.08,266.45 309.63,267.45 310.80,268.30 C311.97,269.15 313.73,270.50 315.50,271.30 C317.27,272.10 318.48,272.65 321.40,273.10 C324.32,273.55 329.12,273.85 333.00,274.00 C336.88,274.15 341.58,273.95 344.70,274.00 C347.82,274.05 350.18,274.07 351.70,274.30 C353.22,274.53 353.27,274.53 353.80,275.40 C354.33,276.27 354.65,277.35 354.90,279.50 C355.15,281.65 355.23,286.83 355.30,288.30" fill="none" stroke="#4a6ee0" stroke-width="1.25" stroke-linejoin="round" stroke-linecap="round"/>
<path d="M241.00,288.90 C241.47,288.43 242.75,286.85 243.80,286.10 C244.85,285.35 246.13,284.92 247.30,284.40 C248.47,283.88 249.92,283.47 250.80,283.00 C251.68,282.53 251.82,282.40 252.60,281.60 C253.38,280.80 254.43,279.00 255.50,278.20 C256.57,277.40 257.05,277.25 259.00,276.80 C260.95,276.35 263.88,275.97 267.20,275.50 C270.52,275.03 275.02,274.48 278.90,274.00 C282.78,273.52 286.98,273.03 290.50,272.60 C294.02,272.17 297.58,271.80 300.00,271.40 C302.42,271.00 303.58,270.70 305.00,270.20 C306.42,269.70 307.53,268.53 308.50,268.40 C309.47,268.27 309.63,268.93 310.80,269.40 C311.97,269.87 312.77,270.65 315.50,271.20 C318.23,271.75 323.30,272.38 327.20,272.70 C331.10,273.02 335.02,273.13 338.90,273.10 C342.78,273.07 348.02,272.68 350.50,272.50 C352.98,272.32 353.07,271.33 353.80,272.00 C354.53,272.67 354.65,273.73 354.90,276.50 C355.15,279.27 355.23,286.58 355.30,288.60" fill="none" stroke="#f5573f" stroke-width="1.25" stroke-linejoin="round" stroke-linecap="round"/>
<rect x="240.90" y="232.80" width="114.60" height="56.50" fill="none" stroke="#505050" stroke-width="1.35"/>
<text x="239.00" y="290.60" font-size="5.6" font-weight="bold" text-anchor="end" fill="#231f20">0</text>
<text x="239.00" y="270.00" font-size="5.6" font-weight="bold" text-anchor="end" fill="#231f20">1.5</text>
<text x="239.00" y="246.80" font-size="5.6" font-weight="bold" text-anchor="end" fill="#231f20">3.0</text>
<line x1="382.30" y1="173.60" x2="382.30" y2="181.60" stroke="#7a7a7a" stroke-width="1.0"/>
<line x1="382.30" y1="183.60" x2="382.30" y2="191.60" stroke="#7a7a7a" stroke-width="1.0"/>
<line x1="382.30" y1="193.60" x2="382.30" y2="201.60" stroke="#7a7a7a" stroke-width="1.0"/>
<line x1="382.30" y1="203.60" x2="382.30" y2="211.60" stroke="#7a7a7a" stroke-width="1.0"/>
<line x1="382.30" y1="213.60" x2="382.30" y2="221.60" stroke="#7a7a7a" stroke-width="1.0"/>
<line x1="382.30" y1="223.60" x2="382.30" y2="229.40" stroke="#7a7a7a" stroke-width="1.0"/>
<line x1="437.40" y1="173.60" x2="437.40" y2="181.60" stroke="#7a7a7a" stroke-width="1.0"/>
<line x1="437.40" y1="183.60" x2="437.40" y2="191.60" stroke="#7a7a7a" stroke-width="1.0"/>
<line x1="437.40" y1="193.60" x2="437.40" y2="201.60" stroke="#7a7a7a" stroke-width="1.0"/>
<line x1="437.40" y1="203.60" x2="437.40" y2="211.60" stroke="#7a7a7a" stroke-width="1.0"/>
<line x1="437.40" y1="213.60" x2="437.40" y2="221.60" stroke="#7a7a7a" stroke-width="1.0"/>
<line x1="437.40" y1="223.60" x2="437.40" y2="229.40" stroke="#7a7a7a" stroke-width="1.0"/>
<rect x="381.30" y="177.90" width="2.00" height="7.70" fill="#fff" stroke="none" stroke-width="0.8"/>
<path d="M370.60,227.90 C371.47,227.38 373.88,225.72 375.80,224.80 C377.72,223.88 379.48,223.22 382.10,222.40 C384.72,221.58 387.98,220.55 391.50,219.90 C395.02,219.25 400.12,218.88 403.20,218.50 C406.28,218.12 407.72,218.02 410.00,217.60 C412.28,217.18 415.15,216.52 416.90,216.00 C418.65,215.48 419.20,215.17 420.50,214.50 C421.80,213.83 423.45,213.00 424.70,212.00 C425.95,211.00 427.03,209.70 428.00,208.50 C428.97,207.30 429.53,207.55 430.50,204.80 C431.47,202.05 432.80,195.55 433.80,192.00 C434.80,188.45 435.80,185.40 436.50,183.50 C437.20,181.60 437.53,181.22 438.00,180.60 C438.47,179.98 438.83,179.73 439.30,179.80 C439.77,179.87 440.17,179.33 440.80,181.00 C441.43,182.67 442.35,186.88 443.10,189.80 C443.85,192.72 444.55,195.97 445.30,198.50 C446.05,201.03 446.82,203.12 447.60,205.00 C448.38,206.88 449.23,208.52 450.00,209.80 C450.77,211.08 451.08,211.70 452.20,212.70 C453.32,213.70 454.70,214.93 456.70,215.80 C458.70,216.67 461.00,217.33 464.20,217.90 C467.40,218.47 473.30,218.98 475.90,219.20 C478.50,219.42 478.62,218.87 479.80,219.20 C480.98,219.53 482.03,219.93 483.00,221.20 C483.97,222.47 485.17,225.87 485.60,226.80" fill="none" stroke="#f5573f" stroke-width="1.25" stroke-linejoin="round" stroke-linecap="round"/>
<path d="M370.60,228.30 C371.47,227.80 373.88,226.05 375.80,225.30 C377.72,224.55 379.48,224.38 382.10,223.80 C384.72,223.22 387.98,222.25 391.50,221.80 C395.02,221.35 399.95,221.35 403.20,221.10 C406.45,220.85 408.38,220.62 411.00,220.30 C413.62,219.98 416.62,219.77 418.90,219.20 C421.18,218.63 422.85,217.90 424.70,216.90 C426.55,215.90 428.48,216.45 430.00,213.20 C431.52,209.95 432.83,202.18 433.80,197.40 C434.77,192.62 435.27,187.82 435.80,184.50 C436.33,181.18 436.67,178.98 437.00,177.50 C437.33,176.02 437.47,175.98 437.80,175.60 C438.13,175.22 438.60,175.13 439.00,175.20 C439.40,175.27 439.78,175.12 440.20,176.00 C440.62,176.88 441.02,178.47 441.50,180.50 C441.98,182.53 442.52,185.70 443.10,188.20 C443.68,190.70 444.25,193.15 445.00,195.50 C445.75,197.85 446.77,200.35 447.60,202.30 C448.43,204.25 449.23,205.93 450.00,207.20 C450.77,208.47 451.08,209.00 452.20,209.90 C453.32,210.80 454.70,211.75 456.70,212.60 C458.70,213.45 460.67,214.50 464.20,215.00 C467.73,215.50 474.80,214.78 477.90,215.60 C481.00,216.42 481.52,218.20 482.80,219.90 C484.08,221.60 485.13,224.82 485.60,225.80" fill="none" stroke="#4a6ee0" stroke-width="1.25" stroke-linejoin="round" stroke-linecap="round"/>
<rect x="370.90" y="173.10" width="114.70" height="56.80" fill="none" stroke="#505050" stroke-width="1.35"/>
<text x="369.00" y="230.90" font-size="5.6" font-weight="bold" text-anchor="end" fill="#231f20">0</text>
<text x="369.00" y="209.90" font-size="5.6" font-weight="bold" text-anchor="end" fill="#231f20">1.5</text>
<text x="369.00" y="187.30" font-size="5.6" font-weight="bold" text-anchor="end" fill="#231f20">3.0</text>
<line x1="382.30" y1="233.60" x2="382.30" y2="241.60" stroke="#7a7a7a" stroke-width="1.0"/>
<line x1="382.30" y1="243.60" x2="382.30" y2="251.60" stroke="#7a7a7a" stroke-width="1.0"/>
<line x1="382.30" y1="253.60" x2="382.30" y2="261.60" stroke="#7a7a7a" stroke-width="1.0"/>
<line x1="382.30" y1="263.60" x2="382.30" y2="271.60" stroke="#7a7a7a" stroke-width="1.0"/>
<line x1="382.30" y1="273.60" x2="382.30" y2="281.60" stroke="#7a7a7a" stroke-width="1.0"/>
<line x1="382.30" y1="283.60" x2="382.30" y2="288.80" stroke="#7a7a7a" stroke-width="1.0"/>
<line x1="437.40" y1="233.60" x2="437.40" y2="241.60" stroke="#7a7a7a" stroke-width="1.0"/>
<line x1="437.40" y1="243.60" x2="437.40" y2="251.60" stroke="#7a7a7a" stroke-width="1.0"/>
<line x1="437.40" y1="253.60" x2="437.40" y2="261.60" stroke="#7a7a7a" stroke-width="1.0"/>
<line x1="437.40" y1="263.60" x2="437.40" y2="271.60" stroke="#7a7a7a" stroke-width="1.0"/>
<line x1="437.40" y1="273.60" x2="437.40" y2="281.60" stroke="#7a7a7a" stroke-width="1.0"/>
<line x1="437.40" y1="283.60" x2="437.40" y2="288.80" stroke="#7a7a7a" stroke-width="1.0"/>
<rect x="381.30" y="237.30" width="2.00" height="7.90" fill="#fff" stroke="none" stroke-width="0.8"/>
<path d="M370.80,288.60 C371.30,288.10 372.72,286.33 373.80,285.60 C374.88,284.87 376.13,284.63 377.30,284.20 C378.47,283.77 379.92,283.60 380.80,283.00 C381.68,282.40 381.82,281.53 382.60,280.60 C383.38,279.67 384.03,278.23 385.50,277.40 C386.97,276.57 388.48,276.20 391.40,275.60 C394.32,275.00 399.12,274.33 403.00,273.80 C406.88,273.27 410.53,273.03 414.70,272.40 C418.87,271.77 424.82,270.72 428.00,270.00 C431.18,269.28 432.25,268.88 433.80,268.10 C435.35,267.32 436.32,265.43 437.30,265.30 C438.28,265.17 438.33,266.30 439.70,267.30 C441.07,268.30 443.17,270.23 445.50,271.30 C447.83,272.37 450.38,273.15 453.70,273.70 C457.02,274.25 461.52,274.42 465.40,274.60 C469.28,274.78 474.18,274.60 477.00,274.80 C479.82,275.00 481.03,274.62 482.30,275.80 C483.57,276.98 484.08,280.20 484.60,281.90 C485.12,283.60 485.27,285.32 485.40,286.00" fill="none" stroke="#4a6ee0" stroke-width="1.25" stroke-linejoin="round" stroke-linecap="round"/>
<path d="M370.80,288.90 C371.30,288.40 372.72,286.63 373.80,285.90 C374.88,285.17 376.13,284.93 377.30,284.50 C378.47,284.07 379.92,283.88 380.80,283.30 C381.68,282.72 381.82,281.90 382.60,281.00 C383.38,280.10 384.03,278.70 385.50,277.90 C386.97,277.10 388.48,276.78 391.40,276.20 C394.32,275.62 399.12,274.90 403.00,274.40 C406.88,273.90 410.53,273.72 414.70,273.20 C418.87,272.68 424.82,271.97 428.00,271.30 C431.18,270.63 432.25,269.78 433.80,269.20 C435.35,268.62 436.32,267.83 437.30,267.80 C438.28,267.77 438.33,268.45 439.70,269.00 C441.07,269.55 443.17,270.48 445.50,271.10 C447.83,271.72 450.38,272.27 453.70,272.70 C457.02,273.13 461.52,273.60 465.40,273.70 C469.28,273.80 474.18,273.50 477.00,273.30 C479.82,273.10 481.03,271.95 482.30,272.50 C483.57,273.05 484.08,274.65 484.60,276.60 C485.12,278.55 485.27,282.93 485.40,284.20" fill="none" stroke="#f5573f" stroke-width="1.25" stroke-linejoin="round" stroke-linecap="round"/>
<rect x="370.90" y="232.80" width="114.70" height="56.50" fill="none" stroke="#505050" stroke-width="1.35"/>
<text x="369.00" y="290.60" font-size="5.6" font-weight="bold" text-anchor="end" fill="#231f20">0</text>
<text x="369.00" y="270.00" font-size="5.6" font-weight="bold" text-anchor="end" fill="#231f20">1.5</text>
<text x="369.00" y="246.80" font-size="5.6" font-weight="bold" text-anchor="end" fill="#231f20">3.0</text>
<text x="253.30" y="183.10" font-size="5.3" font-weight="bold" text-anchor="middle" fill="#231f20">5' UTR</text>
<text x="282.60" y="183.10" font-size="5.3" font-weight="bold" text-anchor="middle" fill="#231f20">CDS</text>
<text x="334.00" y="183.10" font-size="5.3" font-weight="bold" text-anchor="middle" fill="#231f20">3' UTR</text>
<text x="253.30" y="242.50" font-size="5.3" font-weight="bold" text-anchor="middle" fill="#231f20">5' UTR</text>
<text x="282.60" y="242.50" font-size="5.3" font-weight="bold" text-anchor="middle" fill="#231f20">CDS</text>
<text x="334.00" y="242.50" font-size="5.3" font-weight="bold" text-anchor="middle" fill="#231f20">3' UTR</text>
<text x="383.20" y="183.10" font-size="5.3" font-weight="bold" text-anchor="middle" fill="#231f20">5' UTR</text>
<text x="411.90" y="183.10" font-size="5.3" font-weight="bold" text-anchor="middle" fill="#231f20">CDS</text>
<text x="463.60" y="183.10" font-size="5.3" font-weight="bold" text-anchor="middle" fill="#231f20">3' UTR</text>
<text x="383.20" y="242.50" font-size="5.3" font-weight="bold" text-anchor="middle" fill="#231f20">5' UTR</text>
<text x="411.90" y="242.50" font-size="5.3" font-weight="bold" text-anchor="middle" fill="#231f20">CDS</text>
<text x="463.60" y="242.50" font-size="5.3" font-weight="bold" text-anchor="middle" fill="#231f20">3' UTR</text>
<text x="298.10" y="168.60" font-size="6.5" font-weight="bold" text-anchor="middle" fill="#231f20">HEK293T</text>
<text x="428.00" y="168.60" font-size="6.5" font-weight="bold" text-anchor="middle" fill="#231f20">HeLa</text>
<text x="256.40" y="199.60" font-size="6.4" font-weight="bold" text-anchor="start" fill="#4a6ee0">DRACH</text>
<text x="256.40" y="207.90" font-size="6.4" font-weight="bold" text-anchor="start" fill="#f5573f">non-DRACH</text>
<text transform="translate(222.20,204.80) rotate(-90)" x="0" y="0" font-size="6.8" font-weight="normal" stroke="#231f20" stroke-width="0.22" text-anchor="middle" fill="#231f20" textLength="29.8" lengthAdjust="spacingAndGlyphs">m<tspan font-size="4.62" dy="-2.31">6</tspan><tspan dy="2.31">A</tspan> sites</text>
<text transform="translate(229.40,204.70) rotate(-90)" x="0" y="0" font-size="6.6" font-weight="normal" stroke="#231f20" stroke-width="0.22" text-anchor="middle" fill="#231f20" textLength="17.0" lengthAdjust="spacingAndGlyphs">density</text>
<text transform="translate(222.20,265.50) rotate(-90)" x="0" y="0" font-size="6.8" font-weight="normal" stroke="#231f20" stroke-width="0.22" text-anchor="middle" fill="#231f20" textLength="20.0" lengthAdjust="spacingAndGlyphs">A sites</text>
<text transform="translate(229.40,264.20) rotate(-90)" x="0" y="0" font-size="6.6" font-weight="normal" stroke="#231f20" stroke-width="0.22" text-anchor="middle" fill="#231f20" textLength="17.0" lengthAdjust="spacingAndGlyphs">density</text>
<text x="240.10" y="298.80" font-size="5.6" font-weight="normal" stroke="#231f20" stroke-width="0.22" text-anchor="middle" fill="#231f20">TSS</text>
<text x="252.90" y="298.80" font-size="5.7" font-weight="normal" stroke="#231f20" stroke-width="0.22" text-anchor="middle" fill="#231f20">start</text>
<text x="253.10" y="305.40" font-size="5.7" font-weight="normal" stroke="#231f20" stroke-width="0.22" text-anchor="middle" fill="#231f20">codon</text>
<text x="308.20" y="298.80" font-size="5.7" font-weight="normal" stroke="#231f20" stroke-width="0.22" text-anchor="middle" fill="#231f20">stop</text>
<text x="308.20" y="305.40" font-size="5.7" font-weight="normal" stroke="#231f20" stroke-width="0.22" text-anchor="middle" fill="#231f20">codon</text>
<text x="355.30" y="298.80" font-size="5.6" font-weight="normal" stroke="#231f20" stroke-width="0.22" text-anchor="middle" fill="#231f20">TES</text>
<text x="370.30" y="298.80" font-size="5.6" font-weight="normal" stroke="#231f20" stroke-width="0.22" text-anchor="middle" fill="#231f20">TSS</text>
<text x="384.00" y="298.80" font-size="5.7" font-weight="normal" stroke="#231f20" stroke-width="0.22" text-anchor="middle" fill="#231f20">start</text>
<text x="383.80" y="305.40" font-size="5.7" font-weight="normal" stroke="#231f20" stroke-width="0.22" text-anchor="middle" fill="#231f20">codon</text>
<text x="437.70" y="298.80" font-size="5.7" font-weight="normal" stroke="#231f20" stroke-width="0.22" text-anchor="middle" fill="#231f20">stop</text>
<text x="437.70" y="305.40" font-size="5.7" font-weight="normal" stroke="#231f20" stroke-width="0.22" text-anchor="middle" fill="#231f20">codon</text>
<text x="485.90" y="298.80" font-size="5.6" font-weight="normal" stroke="#231f20" stroke-width="0.22" text-anchor="middle" fill="#231f20">TES</text>
<line x1="240.50" y1="300.30" x2="240.50" y2="310.00" stroke="#222" stroke-width="0.7"/>
<line x1="355.50" y1="300.30" x2="355.50" y2="310.00" stroke="#222" stroke-width="0.7"/>
<text x="261.90" y="315.20" font-size="6.0" font-weight="normal" stroke="#231f20" stroke-width="0.22" text-anchor="middle" fill="#231f20">(transcription start site)</text>
<text x="333.00" y="315.20" font-size="6.0" font-weight="normal" stroke="#231f20" stroke-width="0.22" text-anchor="middle" fill="#231f20">(transcription end site)</text>
<text x="493.20" y="164.00" font-size="9.5" font-weight="bold" text-anchor="start" fill="#231f20">e</text>
<rect x="514.50" y="172.60" width="82.70" height="108.50" fill="#fff" stroke="#505050" stroke-width="1.25"/>
<line x1="515.00" y1="184.65" x2="596.70" y2="184.65" stroke="#e0e0e0" stroke-width="0.5"/>
<line x1="515.00" y1="202.80" x2="596.70" y2="202.80" stroke="#e0e0e0" stroke-width="0.5"/>
<line x1="515.00" y1="220.95" x2="596.70" y2="220.95" stroke="#e0e0e0" stroke-width="0.5"/>
<line x1="515.00" y1="239.10" x2="596.70" y2="239.10" stroke="#e0e0e0" stroke-width="0.5"/>
<line x1="515.00" y1="257.25" x2="596.70" y2="257.25" stroke="#e0e0e0" stroke-width="0.5"/>
<line x1="515.00" y1="275.40" x2="596.70" y2="275.40" stroke="#e0e0e0" stroke-width="0.5"/>
<line x1="525.50" y1="183.80" x2="525.50" y2="217.00" stroke="#444" stroke-width="0.75"/>
<line x1="525.50" y1="239.00" x2="525.50" y2="271.30" stroke="#444" stroke-width="0.75"/>
<line x1="521.30" y1="183.80" x2="529.70" y2="183.80" stroke="#444" stroke-width="0.75"/>
<line x1="521.30" y1="271.30" x2="529.70" y2="271.30" stroke="#444" stroke-width="0.75"/>
<rect x="517.30" y="217.00" width="16.40" height="22.00" fill="#4169e1" stroke="#333" stroke-width="0.7"/>
<line x1="517.30" y1="230.90" x2="533.70" y2="230.90" stroke="#222" stroke-width="0.8"/>
<text x="525.50" y="229.20" font-size="5.9" font-weight="bold" text-anchor="middle" fill="#fff">0.397</text>
<line x1="546.10" y1="195.20" x2="546.10" y2="222.20" stroke="#444" stroke-width="0.75"/>
<line x1="546.10" y1="240.80" x2="546.10" y2="267.30" stroke="#444" stroke-width="0.75"/>
<line x1="541.90" y1="195.20" x2="550.30" y2="195.20" stroke="#444" stroke-width="0.75"/>
<line x1="541.90" y1="267.30" x2="550.30" y2="267.30" stroke="#444" stroke-width="0.75"/>
<rect x="537.90" y="222.20" width="16.40" height="18.60" fill="#4169e1" stroke="#333" stroke-width="0.7"/>
<line x1="537.90" y1="233.50" x2="554.30" y2="233.50" stroke="#222" stroke-width="0.8"/>
<text x="546.10" y="232.70" font-size="5.9" font-weight="bold" text-anchor="middle" fill="#fff">0.265</text>
<line x1="566.80" y1="184.20" x2="566.80" y2="219.30" stroke="#444" stroke-width="0.75"/>
<line x1="566.80" y1="242.30" x2="566.80" y2="276.30" stroke="#444" stroke-width="0.75"/>
<line x1="562.60" y1="184.20" x2="571.00" y2="184.20" stroke="#444" stroke-width="0.75"/>
<line x1="562.60" y1="276.30" x2="571.00" y2="276.30" stroke="#444" stroke-width="0.75"/>
<rect x="558.60" y="219.30" width="16.40" height="23.00" fill="#ff6347" stroke="#333" stroke-width="0.7"/>
<line x1="558.60" y1="234.50" x2="575.00" y2="234.50" stroke="#222" stroke-width="0.8"/>
<text x="566.80" y="232.00" font-size="5.9" font-weight="bold" text-anchor="middle" fill="#fff">0.227</text>
<line x1="587.80" y1="194.30" x2="587.80" y2="224.40" stroke="#444" stroke-width="0.75"/>
<line x1="587.80" y1="244.00" x2="587.80" y2="273.60" stroke="#444" stroke-width="0.75"/>
<line x1="583.60" y1="194.30" x2="592.00" y2="194.30" stroke="#444" stroke-width="0.75"/>
<line x1="583.60" y1="273.60" x2="592.00" y2="273.60" stroke="#444" stroke-width="0.75"/>
<rect x="579.60" y="224.40" width="16.40" height="19.60" fill="#ff6347" stroke="#333" stroke-width="0.7"/>
<line x1="579.60" y1="235.20" x2="596.00" y2="235.20" stroke="#222" stroke-width="0.8"/>
<text x="587.80" y="235.40" font-size="5.9" font-weight="bold" text-anchor="middle" fill="#fff">0.145</text>
<polyline points="525.50,183.80 525.50,179.30 546.10,179.30 546.10,195.20" fill="none" stroke="#555" stroke-width="0.6"/>
<text x="535.20" y="178.10" font-size="4.5" font-weight="normal" text-anchor="middle" fill="#2a2a2a">4.50×10<tspan font-size="2.7" dy="-1.5">-17</tspan></text>
<polyline points="566.80,184.20 566.80,180.20 587.80,180.20 587.80,194.30" fill="none" stroke="#555" stroke-width="0.6"/>
<text x="576.70" y="179.00" font-size="4.5" font-weight="normal" text-anchor="middle" fill="#2a2a2a">4.22×10<tspan font-size="2.7" dy="-1.5">-9</tspan></text>
<text x="556.90" y="168.60" font-size="6.5" font-weight="bold" text-anchor="middle" fill="#231f20">HEK293T</text>
<rect x="602.10" y="172.60" width="82.30" height="108.50" fill="#fff" stroke="#505050" stroke-width="1.25"/>
<line x1="602.60" y1="184.65" x2="683.90" y2="184.65" stroke="#e0e0e0" stroke-width="0.5"/>
<line x1="602.60" y1="202.80" x2="683.90" y2="202.80" stroke="#e0e0e0" stroke-width="0.5"/>
<line x1="602.60" y1="220.95" x2="683.90" y2="220.95" stroke="#e0e0e0" stroke-width="0.5"/>
<line x1="602.60" y1="239.10" x2="683.90" y2="239.10" stroke="#e0e0e0" stroke-width="0.5"/>
<line x1="602.60" y1="257.25" x2="683.90" y2="257.25" stroke="#e0e0e0" stroke-width="0.5"/>
<line x1="602.60" y1="275.40" x2="683.90" y2="275.40" stroke="#e0e0e0" stroke-width="0.5"/>
<line x1="613.75" y1="181.10" x2="613.75" y2="215.50" stroke="#444" stroke-width="0.75"/>
<line x1="613.75" y1="239.20" x2="613.75" y2="273.50" stroke="#444" stroke-width="0.75"/>
<line x1="609.55" y1="181.10" x2="617.95" y2="181.10" stroke="#444" stroke-width="0.75"/>
<line x1="609.55" y1="273.50" x2="617.95" y2="273.50" stroke="#444" stroke-width="0.75"/>
<rect x="605.50" y="215.50" width="16.50" height="23.70" fill="#4169e1" stroke="#333" stroke-width="0.7"/>
<line x1="605.50" y1="230.20" x2="622.00" y2="230.20" stroke="#222" stroke-width="0.8"/>
<text x="613.75" y="228.55" font-size="5.9" font-weight="bold" text-anchor="middle" fill="#fff">0.415</text>
<line x1="634.20" y1="192.80" x2="634.20" y2="221.40" stroke="#444" stroke-width="0.75"/>
<line x1="634.20" y1="240.20" x2="634.20" y2="268.50" stroke="#444" stroke-width="0.75"/>
<line x1="630.00" y1="192.80" x2="638.40" y2="192.80" stroke="#444" stroke-width="0.75"/>
<line x1="630.00" y1="268.50" x2="638.40" y2="268.50" stroke="#444" stroke-width="0.75"/>
<rect x="625.70" y="221.40" width="17.00" height="18.80" fill="#4169e1" stroke="#333" stroke-width="0.7"/>
<line x1="625.70" y1="233.20" x2="642.70" y2="233.20" stroke="#222" stroke-width="0.8"/>
<text x="634.20" y="232.00" font-size="5.9" font-weight="bold" text-anchor="middle" fill="#fff">0.286</text>
<line x1="654.60" y1="183.40" x2="654.60" y2="218.80" stroke="#444" stroke-width="0.75"/>
<line x1="654.60" y1="242.30" x2="654.60" y2="274.80" stroke="#444" stroke-width="0.75"/>
<line x1="650.40" y1="183.40" x2="658.80" y2="183.40" stroke="#444" stroke-width="0.75"/>
<line x1="650.40" y1="274.80" x2="658.80" y2="274.80" stroke="#444" stroke-width="0.75"/>
<rect x="646.10" y="218.80" width="17.00" height="23.50" fill="#ff6347" stroke="#333" stroke-width="0.7"/>
<line x1="646.10" y1="234.50" x2="663.10" y2="234.50" stroke="#222" stroke-width="0.8"/>
<text x="654.60" y="231.75" font-size="5.9" font-weight="bold" text-anchor="middle" fill="#fff">0.235</text>
<line x1="675.35" y1="196.20" x2="675.35" y2="224.60" stroke="#444" stroke-width="0.75"/>
<line x1="675.35" y1="244.00" x2="675.35" y2="273.00" stroke="#444" stroke-width="0.75"/>
<line x1="671.15" y1="196.20" x2="679.55" y2="196.20" stroke="#444" stroke-width="0.75"/>
<line x1="671.15" y1="273.00" x2="679.55" y2="273.00" stroke="#444" stroke-width="0.75"/>
<rect x="666.80" y="224.60" width="17.10" height="19.40" fill="#ff6347" stroke="#333" stroke-width="0.7"/>
<line x1="666.80" y1="235.20" x2="683.90" y2="235.20" stroke="#222" stroke-width="0.8"/>
<text x="675.35" y="235.50" font-size="5.9" font-weight="bold" text-anchor="middle" fill="#fff">0.154</text>
<polyline points="613.70,181.10 613.70,177.20 634.20,177.20 634.20,192.80" fill="none" stroke="#555" stroke-width="0.6"/>
<text x="623.35" y="176.00" font-size="4.5" font-weight="normal" text-anchor="middle" fill="#2a2a2a">1.00×10<tspan font-size="2.7" dy="-1.5">-16</tspan></text>
<polyline points="654.60,183.40 654.60,177.60 675.40,177.60 675.40,196.20" fill="none" stroke="#555" stroke-width="0.6"/>
<text x="664.40" y="176.40" font-size="4.5" font-weight="normal" text-anchor="middle" fill="#2a2a2a">4.83×10<tspan font-size="2.7" dy="-1.5">-9</tspan></text>
<text x="643.30" y="168.60" font-size="6.5" font-weight="bold" text-anchor="middle" fill="#231f20">HeLa</text>
<text x="512.00" y="186.65" font-size="5.6" font-weight="bold" text-anchor="end" fill="#231f20">3.0</text>
<text x="512.00" y="204.80" font-size="5.6" font-weight="bold" text-anchor="end" fill="#231f20">2.0</text>
<text x="512.00" y="222.95" font-size="5.6" font-weight="bold" text-anchor="end" fill="#231f20">1.0</text>
<text x="512.00" y="241.10" font-size="5.6" font-weight="bold" text-anchor="end" fill="#231f20">0.0</text>
<text x="512.00" y="259.25" font-size="5.6" font-weight="bold" text-anchor="end" fill="#231f20">-1.0</text>
<text x="512.00" y="277.40" font-size="5.6" font-weight="bold" text-anchor="end" fill="#231f20">-2.0</text>
<text transform="translate(502.10,230.20) rotate(-90)" x="0" y="0" font-size="6.0" font-weight="normal" stroke="#231f20" stroke-width="0.22" text-anchor="middle" fill="#231f20">phyloP score</text>
<text x="525.10" y="287.60" font-size="5.6" font-weight="bold" text-anchor="middle" fill="#231f20">m<tspan font-size="3.81" dy="-1.90">6</tspan><tspan dy="1.90">A</tspan></text>
<text x="545.90" y="287.60" font-size="5.6" font-weight="bold" text-anchor="middle" fill="#231f20">A</text>
<line x1="518.40" y1="289.30" x2="550.00" y2="289.30" stroke="#222" stroke-width="0.7"/>
<text x="534.30" y="295.20" font-size="5.5" font-weight="bold" text-anchor="middle" fill="#231f20">DRACH</text>
<text x="566.50" y="287.60" font-size="5.6" font-weight="bold" text-anchor="middle" fill="#231f20">m<tspan font-size="3.81" dy="-1.90">6</tspan><tspan dy="1.90">A</tspan></text>
<text x="587.60" y="287.60" font-size="5.6" font-weight="bold" text-anchor="middle" fill="#231f20">A</text>
<line x1="560.00" y1="289.30" x2="592.40" y2="289.30" stroke="#222" stroke-width="0.7"/>
<text x="576.20" y="295.20" font-size="5.5" font-weight="bold" text-anchor="middle" fill="#231f20">non-DRACH</text>
<text x="613.40" y="287.60" font-size="5.6" font-weight="bold" text-anchor="middle" fill="#231f20">m<tspan font-size="3.81" dy="-1.90">6</tspan><tspan dy="1.90">A</tspan></text>
<text x="633.10" y="287.60" font-size="5.6" font-weight="bold" text-anchor="middle" fill="#231f20">A</text>
<line x1="606.70" y1="289.30" x2="638.30" y2="289.30" stroke="#222" stroke-width="0.7"/>
<text x="622.90" y="295.20" font-size="5.5" font-weight="bold" text-anchor="middle" fill="#231f20">DRACH</text>
<text x="655.30" y="287.60" font-size="5.6" font-weight="bold" text-anchor="middle" fill="#231f20">m<tspan font-size="3.81" dy="-1.90">6</tspan><tspan dy="1.90">A</tspan></text>
<text x="676.90" y="287.60" font-size="5.6" font-weight="bold" text-anchor="middle" fill="#231f20">A</text>
<line x1="648.50" y1="289.30" x2="681.50" y2="289.30" stroke="#222" stroke-width="0.7"/>
<text x="665.30" y="295.20" font-size="5.5" font-weight="bold" text-anchor="middle" fill="#231f20">non-DRACH</text>
</svg>
</div>
</body></html>
